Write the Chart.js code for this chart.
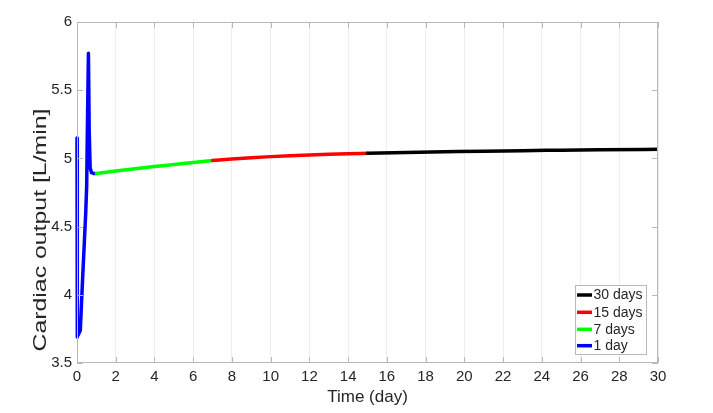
<!DOCTYPE html>
<html>
<head>
<meta charset="utf-8">
<script src="https://cdn.jsdelivr.net/npm/chart.js@4.4.0/dist/chart.umd.min.js"></script>
<style>
    html, body { margin: 0; padding: 0; background: #ffffff; }
</style>
</head>
<body>
<canvas id="graficoDebito" width="713" height="413"></canvas>
<script>
// dados (tempo em dias, debito em L/min)
var tempo1Dia = [0, 0.004, 0.012, 0.03, 0.08, 0.17, 0.3, 0.45, 0.5, 0.53, 0.59, 0.63, 0.68, 0.75, 0.85, 1.0];
var debito1Dia = [5.15, 4.4, 3.69, 3.695, 3.71, 3.74, 4.15, 4.6, 4.8, 5.15, 5.77, 5.2, 4.93, 4.895, 4.89, 4.89];

var tempo7Dias = [1, 2, 3, 4, 5, 6, 7];
var debito7Dias = [4.89, 4.907, 4.924, 4.94, 4.955, 4.97, 4.985];

var tempo15Dias = [7, 8, 9, 10, 11, 12, 13, 14, 15];
var debito15Dias = [4.985, 4.996, 5.005, 5.013, 5.02, 5.025, 5.03, 5.034, 5.037];

var tempo30Dias = [15, 17, 19, 21, 23, 25, 27, 30];
var debito30Dias = [5.037, 5.043, 5.048, 5.053, 5.057, 5.06, 5.063, 5.067];

var nomesSeries = ['30 days', '15 days', '7 days', '1 day'];
var coresSeries = ['#000000', '#ff0000', '#00ff00', '#0000ff'];

var ticksX = [0, 2, 4, 6, 8, 10, 12, 14, 16, 18, 20, 22, 24, 26, 28, 30];
var ticksY = [3.5, 4, 4.5, 5, 5.5, 6];

var corEixo = '#b9b9b9';
var corTexto = '#262626';
var fonte = '"Liberation Sans", Arial, sans-serif';

function pontos(tempos, valores) {
    return tempos.map((t, i) => ({ x: t, y: valores[i] }));
}

function serie(indice, tempos, valores, curva) {
    return {
        label: nomesSeries[indice],
        data: pontos(tempos, valores),
        borderColor: coresSeries[indice],
        backgroundColor: coresSeries[indice],
        borderWidth: 3.5,
        pointRadius: 0,
        borderJoinStyle: 'round',
        borderCapStyle: 'round',
        cubicInterpolationMode: curva ? 'monotone' : 'default',
        tension: 0,
        fill: false,
        clip: curva ? undefined : 4
    };
}

// eixos no estilo matlab: caixa, ticks para dentro, titulos e legenda
const estiloMatlab = {
    id: 'estiloMatlab',
    afterDraw(chart) {
        const ctx = chart.ctx;
        const area = chart.chartArea;
        const sx = chart.scales.x;
        const sy = chart.scales.y;
        ctx.save();

        ctx.strokeStyle = corEixo;
        ctx.lineWidth = 1;
        ctx.strokeRect(area.left + 0.5, area.top + 0.5, area.right - area.left - 1, area.bottom - area.top - 1);

        ctx.beginPath();
        ticksY.forEach(v => {
            const py = Math.round(sy.getPixelForValue(v)) + 0.5;
            ctx.moveTo(area.left, py); ctx.lineTo(area.left + 6, py);
            ctx.moveTo(area.right, py); ctx.lineTo(area.right - 6, py);
        });
        ticksX.forEach(v => {
            const px = Math.round(sx.getPixelForValue(v)) + 0.5;
            ctx.moveTo(px, area.bottom); ctx.lineTo(px, area.bottom - 6);
            ctx.moveTo(px, area.top); ctx.lineTo(px, area.top + 6);
        });
        ctx.stroke();

        // titulos
        ctx.fillStyle = corTexto;
        ctx.font = '17px ' + fonte;
        ctx.textAlign = 'center';
        ctx.textBaseline = 'middle';
        ctx.fillText('Time (day)', (area.left + area.right) / 2, 397);

        ctx.save();
        ctx.font = '18px ' + fonte;
        ctx.translate(41, 230);
        ctx.rotate(-Math.PI / 2);
        ctx.scale(1.38, 1);
        ctx.fillText('Cardiac output [L/min]', 0, 0);
        ctx.restore();

        // legenda
        const lx = 575, ly = 285, lw = 71, lh = 69;
        ctx.fillStyle = '#ffffff';
        ctx.fillRect(lx, ly, lw, lh);
        ctx.strokeStyle = corEixo;
        ctx.strokeRect(lx + 0.5, ly + 0.5, lw, lh);
        ctx.font = '14px ' + fonte;
        ctx.textAlign = 'left';
        const linhas = [295, 312.3, 329.3, 345.7];
        nomesSeries.forEach((nome, i) => {
            ctx.strokeStyle = coresSeries[i];
            ctx.lineWidth = 3.5;
            ctx.beginPath();
            ctx.moveTo(577, linhas[i]);
            ctx.lineTo(592, linhas[i]);
            ctx.stroke();
            ctx.fillStyle = corTexto;
            ctx.fillText(nome, 593.5, linhas[i] + 0.5);
        });

        ctx.restore();
    }
};

new Chart(document.getElementById('graficoDebito'), {
    type: 'line',
    data: {
        datasets: [
            serie(0, tempo30Dias, debito30Dias, true),
            serie(1, tempo15Dias, debito15Dias, true),
            serie(2, tempo7Dias, debito7Dias, true),
            serie(3, tempo1Dia, debito1Dia, false)
        ]
    },
    options: {
        responsive: false,
        animation: false,
        layout: { padding: { top: 22, right: 55, left: 0, bottom: 0 } },
        plugins: {
            legend: { display: false },
            tooltip: { enabled: false }
        },
        scales: {
            x: {
                type: 'linear',
                min: 0,
                max: 30,
                afterBuildTicks: s => { s.ticks = ticksX.map(v => ({ value: v })); },
                afterFit: s => { s.height = 50; },
                ticks: {
                    color: corTexto,
                    font: { family: fonte, size: 15 },
                    padding: 5,
                    maxRotation: 0,
                    autoSkip: false,
                    callback: v => String(v)
                },
                grid: { color: '#ededed', drawTicks: false },
                border: { display: false }
            },
            y: {
                min: 3.5,
                max: 6,
                afterBuildTicks: s => { s.ticks = ticksY.map(v => ({ value: v })); },
                afterFit: s => { s.width = 77; },
                ticks: {
                    color: corTexto,
                    font: { family: fonte, size: 15 },
                    padding: 5,
                    callback: v => String(v)
                },
                grid: { display: false, drawTicks: false },
                border: { display: false }
            }
        }
    },
    plugins: [estiloMatlab]
});
</script>
</body>
</html>
